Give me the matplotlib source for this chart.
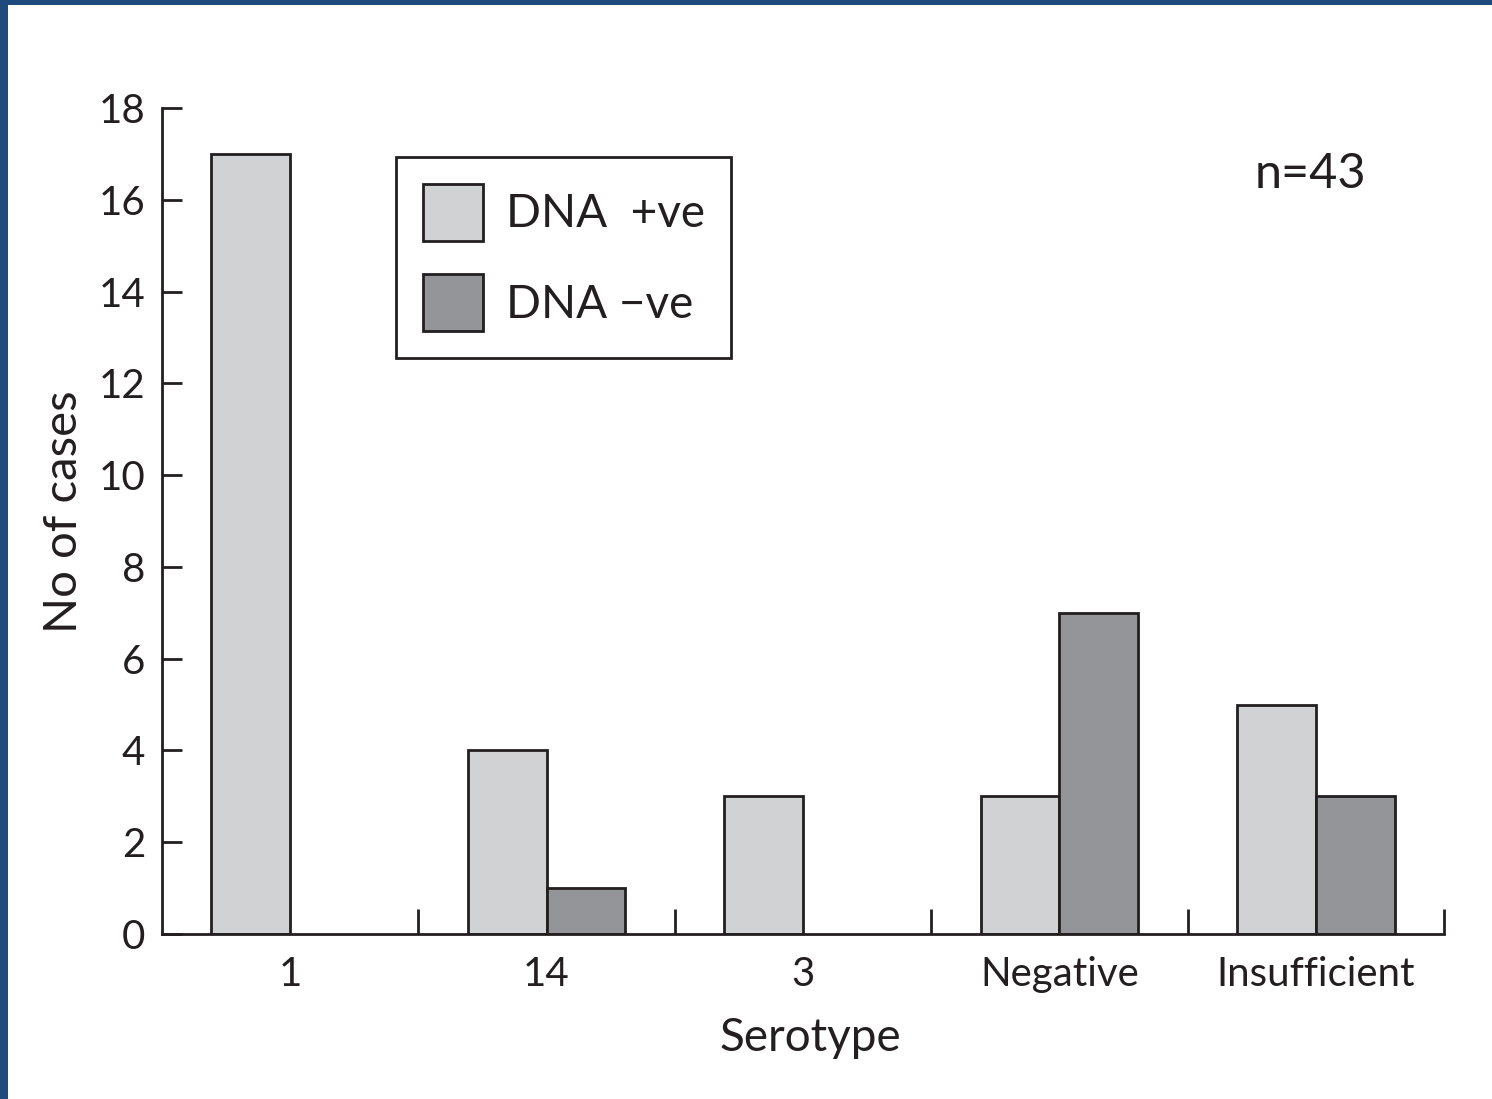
import numpy as np
import matplotlib
matplotlib.use("Agg")
import matplotlib.pyplot as plt
from matplotlib.patches import Rectangle, Patch

# data
serotypes = ["1", "14", "3", "Negative", "Insufficient"]
dna_pos = [17, 4, 3, 3, 5]
dna_neg = [0, 1, 0, 7, 3]
series_labels = ["DNA  +ve", "DNA \u2212ve"]
yticks = [0, 2, 4, 6, 8, 10, 12, 14, 16, 18]

light = "#d1d2d4"
dark = "#939598"
ink = "#231f20"

plt.rcParams['font.family'] = ['Lato', 'DejaVu Sans']

fig = plt.figure(figsize=(14.92, 10.99), dpi=100)
fig.patch.set_facecolor("#1f4a7e")
# white page inside the blue frame
fig.patches.append(Rectangle((8 / 1492, 0), 1, 1 - 5 / 1099, transform=fig.transFigure,
                             facecolor="white", edgecolor="none", zorder=-1))

ax = fig.add_axes([162 / 1492, 1 - 934 / 1099, (1444 - 162) / 1492, (934 - 108) / 1099])
ax.set_facecolor("none")

x = np.arange(len(serotypes)) + 0.5
w = 0.307
ax.bar(x - w / 2, dna_pos, w, color=light, edgecolor=ink, linewidth=2)
neg_x = [xi + w / 2 for xi, v in zip(x, dna_neg) if v > 0]
neg_v = [v for v in dna_neg if v > 0]
ax.bar(neg_x, neg_v, w, color=dark, edgecolor=ink, linewidth=2)

ax.set_xlim(0, len(serotypes))
ax.set_ylim(0, 18)
for s in ["top", "right"]:
    ax.spines[s].set_visible(False)
for s in ["left", "bottom"]:
    ax.spines[s].set_linewidth(2)
    ax.spines[s].set_color(ink)

ax.set_yticks(yticks)
ax.tick_params(axis="y", direction="in", length=14.4, width=2, color=ink,
               labelsize=29, labelcolor=ink, pad=12)
ax.set_xticks(np.arange(1, len(serotypes) + 1))
ax.set_xticklabels([])
ax.set_xticks(x, minor=True)
ax.set_xticklabels(serotypes, minor=True)
ax.tick_params(axis="x", which="major", direction="in", length=18, width=2, color=ink)
ax.tick_params(axis="x", which="minor", length=0, labelsize=29, labelcolor=ink, pad=16)

ax.set_ylabel("No of cases", fontsize=34, color=ink)
ax.yaxis.set_label_coords(-0.06, 0.511)
ax.set_xlabel("Serotype", fontsize=33, color=ink)
ax.xaxis.set_label_coords(0.5055, -0.101)

handles = [Patch(facecolor=light, edgecolor=ink, linewidth=2),
           Patch(facecolor=dark, edgecolor=ink, linewidth=2)]
leg = ax.legend(handles, series_labels, loc="upper left", bbox_to_anchor=(0.1825, 0.9407),
                borderaxespad=0, fontsize=33, handlelength=1.31, handleheight=1.55,
                handletextpad=0.5, labelspacing=0.72, borderpad=0.58, fancybox=False,
                framealpha=1, labelcolor=ink)
leg.get_frame().set_edgecolor(ink)
leg.get_frame().set_linewidth(2)

ax.text(0.852, 0.903, "n=43", transform=ax.transAxes, fontsize=35, color=ink,
        ha="left", va="baseline")

fig.savefig("out.png", dpi=100, facecolor=fig.get_facecolor())
